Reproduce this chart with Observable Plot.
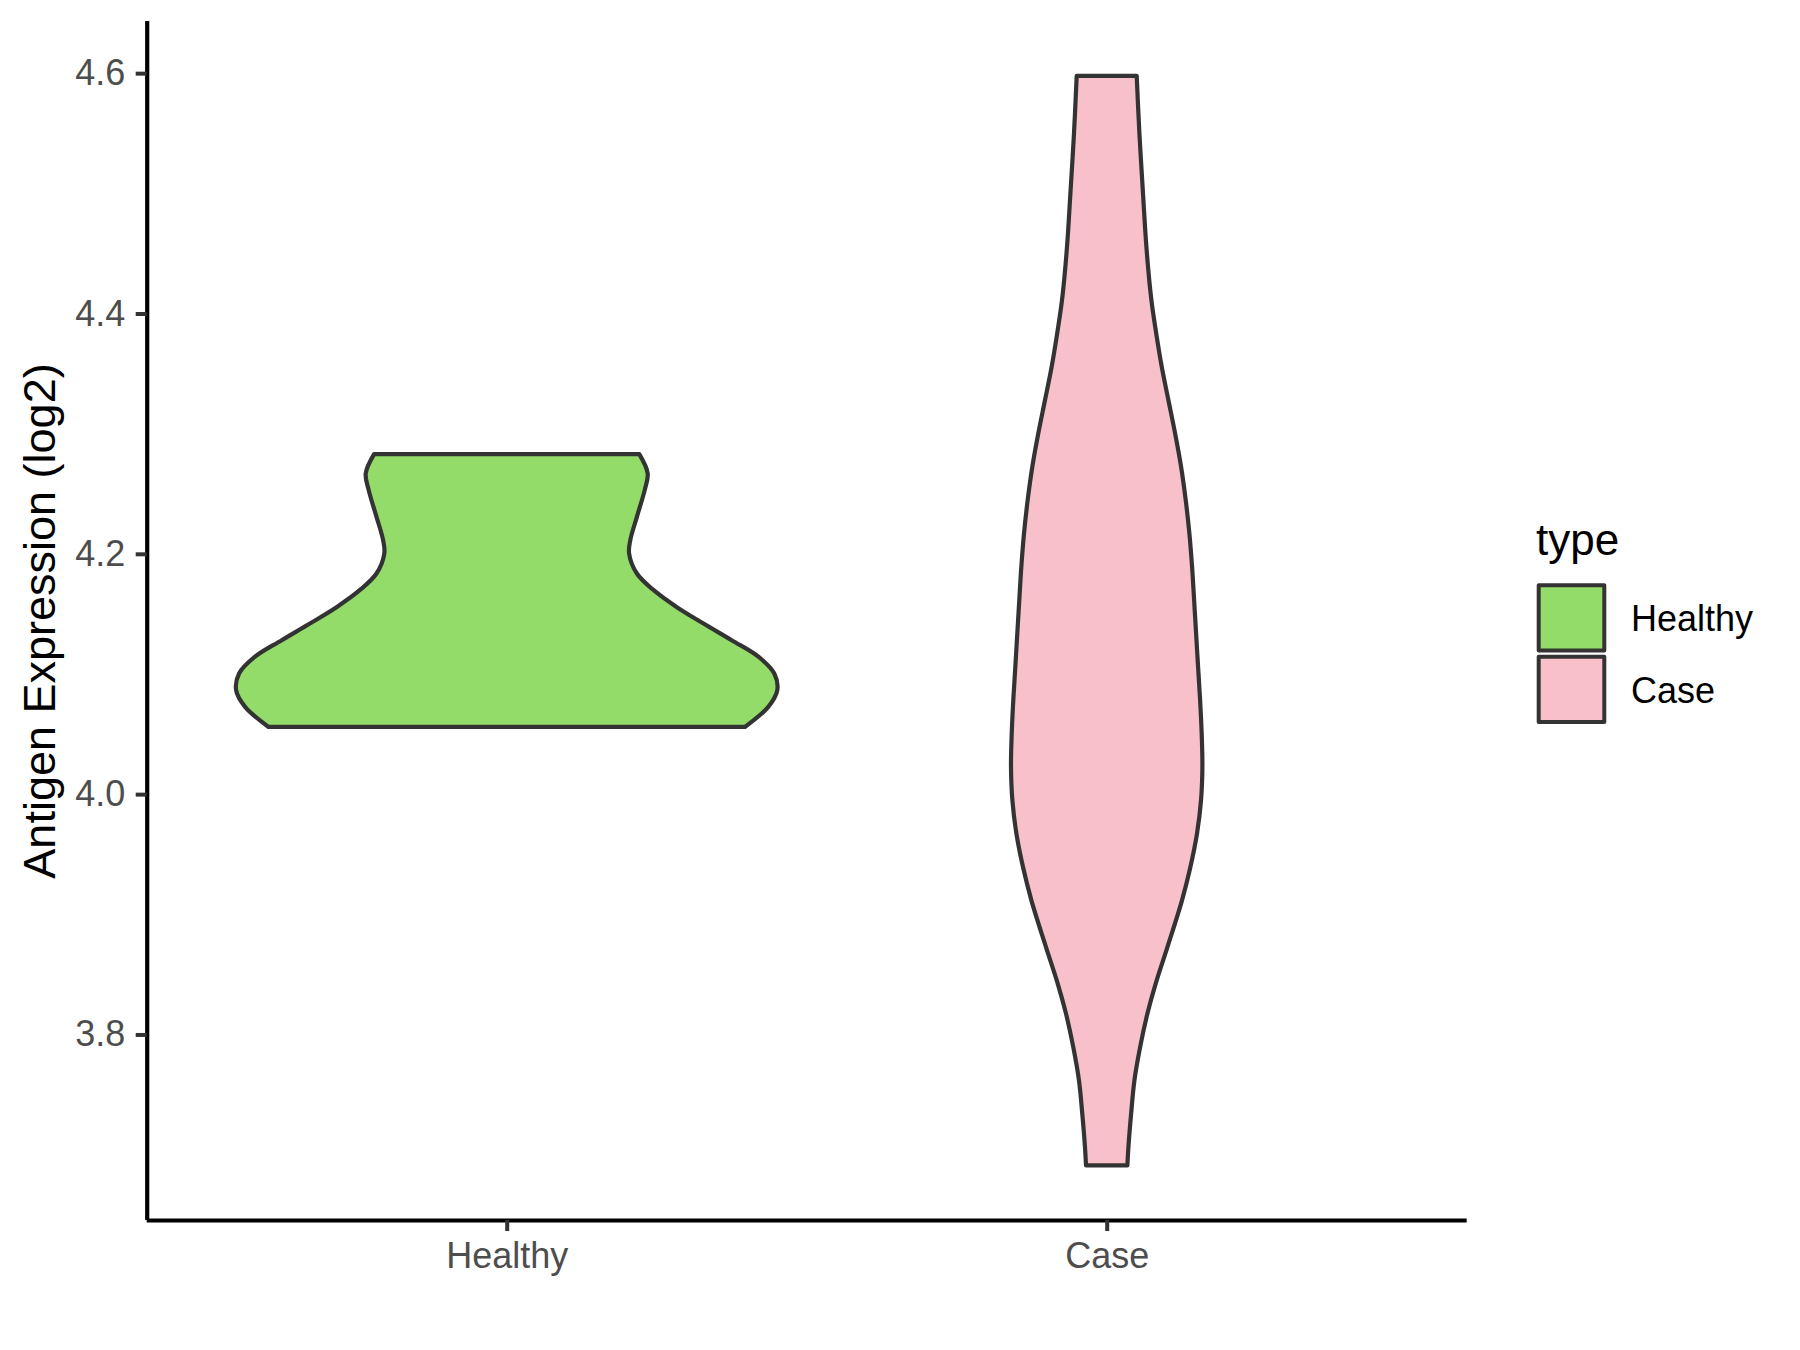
<!DOCTYPE html>
<html>
<head>
<meta charset="utf-8">
<script src="https://cdn.jsdelivr.net/npm/d3@7"></script>
<script src="https://cdn.jsdelivr.net/npm/@observablehq/plot@0.6"></script>
<style>
  html, body { margin: 0; padding: 0; background: #ffffff; }
  #wrap { position: relative; width: 1800px; height: 1350px; font-family: "Liberation Sans", Arial, sans-serif; }
  #wrap svg { position: absolute; left: 0; top: 0; }
</style>
</head>
<body>
<div id="wrap"></div>
<script>
// ---- data ----
const types = ["Healthy", "Case"];
const typeColors = ["#93DC6A", "#F7C0CB"];
const typePositions = [1, 2];

// violin outlines: expression value and half-width (in category units)
const healthyValue = [4.2830, 4.2669, 4.2530, 4.2308, 4.2114, 4.2003, 4.1836, 4.1697, 4.1558, 4.1420, 4.1281, 4.1142, 4.1004, 4.0865, 4.0726, 4.0559];
const healthyHalfWidth = [0.221, 0.235, 0.230, 0.217, 0.206, 0.204, 0.217, 0.245, 0.283, 0.328, 0.375, 0.420, 0.446, 0.451, 0.436, 0.397];

const caseValue = [4.5978, 4.55, 4.50, 4.46, 4.43, 4.41, 4.39, 4.3557, 4.3280, 4.3002, 4.2724, 4.2447, 4.2170, 4.1891, 4.1614, 4.1337, 4.1059, 4.0781, 4.0504, 4.0226, 3.9949, 3.9671, 3.9393, 3.9116, 3.8727, 3.8450, 3.8172, 3.7894, 3.7617, 3.7340, 3.7062, 3.6910];
const caseHalfWidth = [0.050, 0.0545, 0.0605, 0.0655, 0.0705, 0.0748, 0.0805, 0.0917, 0.1028, 0.114, 0.124, 0.1317, 0.1378, 0.1423, 0.1457, 0.149, 0.1523, 0.1557, 0.1583, 0.1595, 0.1572, 0.1505, 0.1395, 0.1255, 0.1012, 0.0833, 0.0678, 0.0557, 0.0462, 0.0407, 0.0362, 0.0345];

const yTicks = [3.8, 4.0, 4.2, 4.4, 4.6];
const yDomain = [3.6456, 4.6434];
const xDomain = [0.4, 2.6];
const yTitle = "Antigen Expression (log2)";
const legendTitle = "type";

// ---- build table ----
const violins = [];
healthyValue.forEach((v, i) => violins.push({type: "Healthy", pos: 1, value: v, w: healthyHalfWidth[i]}));
caseValue.forEach((v, i) => violins.push({type: "Case", pos: 2, value: v, w: caseHalfWidth[i]}));

const W = 1800, H = 1350;
const mL = 146.7, mR = 333.3, mT = 21, mB = 130;

const plot = Plot.plot({
  width: W,
  height: H,
  marginLeft: mL,
  marginRight: mR,
  marginTop: mT,
  marginBottom: mB,
  style: {fontFamily: "'Liberation Sans', Arial, sans-serif", fontSize: "36px", background: "transparent", overflow: "visible"},
  x: {domain: xDomain, axis: null},
  y: {domain: yDomain, axis: null},
  color: {domain: types, range: typeColors},
  marks: [
    Plot.areaX(violins, {
      y: "value",
      x1: d => d.pos - d.w,
      x2: d => d.pos + d.w,
      z: "type",
      fill: "type",
      stroke: "#333333",
      strokeWidth: 4.2,
      strokeLinejoin: "round",
      curve: "catmull-rom"
    }),
    Plot.ruleX([xDomain[0]], {stroke: "#000000", strokeWidth: 4.2}),
    Plot.ruleY([yDomain[0]], {stroke: "#000000", strokeWidth: 4.2}),
    Plot.axisY({
      ticks: yTicks,
      tickFormat: d3.format(".1f"),
      tickSize: 11,
      tickPadding: 11,
      fontSize: 36,
      stroke: "#333333",
      strokeWidth: 4,
      fill: "#4D4D4D",
      label: null
    }),
    Plot.axisX({
      ticks: typePositions,
      tickFormat: p => types[p - 1],
      tickSize: 11,
      tickPadding: 11,
      fontSize: 36,
      stroke: "#333333",
      strokeWidth: 4,
      fill: "#4D4D4D",
      label: null
    }),
    Plot.text([yTitle], {
      frameAnchor: "left",
      rotate: -90,
      lineAnchor: "bottom",
      textAnchor: "middle",
      dx: 54 - mL,
      fontSize: 45,
      fill: "#000000"
    })
  ]
});

document.getElementById("wrap").appendChild(plot);

// ---- legend (overlay svg, colours from the plot's colour scale) ----
const colorScale = plot.scale("color");
const cmap = new Map(colorScale.domain.map((d, i) => [d, colorScale.range[i]]));
const legend = d3.select("#wrap").append("svg")
  .attr("width", W).attr("height", H)
  .style("font-family", "'Liberation Sans', Arial, sans-serif");

legend.append("text")
  .attr("x", 1536).attr("y", 555)
  .attr("font-size", 44).attr("fill", "#000000")
  .text(legendTitle);

const keyX = 1538.7, keyW = 65.6, keyH = 65.3;
const keyY = [585.3, 656.7];
const labelBase = [630.7, 702.7];
types.forEach((t, i) => {
  legend.append("rect")
    .attr("x", keyX).attr("y", keyY[i])
    .attr("width", keyW).attr("height", keyH)
    .attr("fill", cmap.get(t))
    .attr("stroke", "#333333").attr("stroke-width", 4)
    .attr("stroke-linejoin", "round");
  legend.append("text")
    .attr("x", 1631).attr("y", labelBase[i])
    .attr("font-size", 36).attr("fill", "#000000")
    .text(t);
});
</script>
</body>
</html>
